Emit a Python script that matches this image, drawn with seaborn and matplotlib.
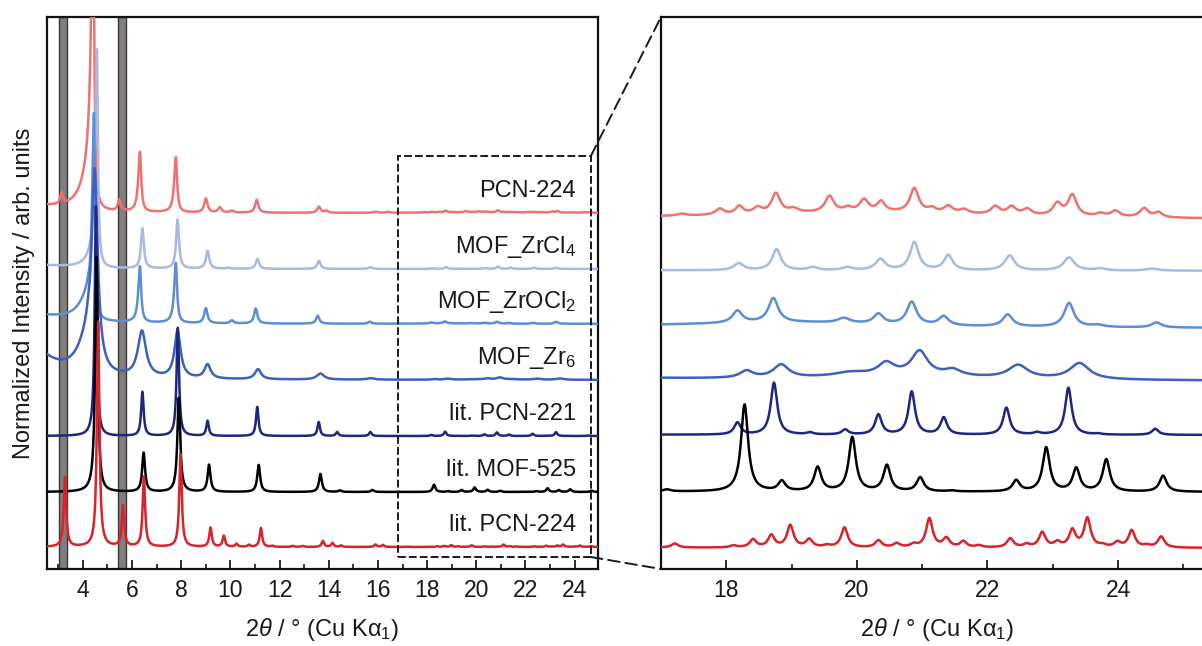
import numpy as np
import pandas as pd
import matplotlib
matplotlib.use("Agg")
import matplotlib.pyplot as plt
import seaborn as sns
from matplotlib.patches import Rectangle, ConnectionPatch
from matplotlib.ticker import MultipleLocator

# ---------------- data ----------------
samples = ["PCN-224", "MOF_ZrCl4", "MOF_ZrOCl2", "MOF_Zr6",
           "lit. PCN-221", "lit. MOF-525", "lit. PCN-224"]
labels = ["PCN-224", "MOF_ZrCl$_4$", "MOF_ZrOCl$_2$", "MOF_Zr$_6$",
          "lit. PCN-221", "lit. MOF-525", "lit. PCN-224"]
colors = ["#ef7272", "#a9b9e2", "#5b8ed6", "#3b62bf",
          "#1f2682", "#000000", "#d8232a"]
offsets = [356, 300, 245, 189, 133, 77, 22]          # stacking offsets, left panel
zoom_offsets = [349, 298, 240, 187, 134, 77, 21]     # stacking offsets, zoom panel
ZOOM = 12                                           # magnification of zoom panel

# peaks: (2theta, height, half-width left, [half-width right]) – left panel units
pcn224_peaks = [(2.0, 7, 1.5), (3.13, 11, 0.06), (4.42, 290, 0.10, 0.05), (4.30, 35, 0.40, 0.10),
                (5.48, 11, 0.07), (6.32, 60, 0.08, 0.06), (7.78, 55, 0.08, 0.06), (9.00, 14, 0.08),
                (9.57, 5, 0.08), (10.06, 2, 0.08), (11.07, 13, 0.08), (13.60, 6, 0.08),
                (13.90, 2, 0.08), (15.90, 1, 0.08), (16.40, 1, 0.08)]
zrcl4_peaks = [(2.0, 4, 1.5), (4.57, 215, 0.08, 0.05), (4.45, 12, 0.30, 0.08), (6.42, 40, 0.07),
               (7.85, 49, 0.07), (9.07, 18, 0.08), (9.90, 1, 0.08), (11.10, 10, 0.08),
               (13.60, 8, 0.08), (15.70, 2, 0.08)]
zrocl2_peaks = [(1.5, 10, 2.0), (4.45, 205, 0.09, 0.05), (4.20, 20, 0.45, 0.10), (6.32, 56, 0.08, 0.06),
                (7.78, 60, 0.08, 0.06), (9.00, 15, 0.08), (10.06, 3, 0.08), (11.03, 15, 0.08),
                (13.55, 8, 0.08), (15.67, 2, 0.08)]
zr6_peaks = [(1.6, 42, 1.0), (4.48, 200, 0.15, 0.15), (4.20, 30, 0.50, 0.15), (6.40, 46, 0.20),
             (7.85, 47, 0.15), (9.07, 14, 0.15), (11.12, 10, 0.15), (13.66, 6, 0.18),
             (15.70, 1.5, 0.18)]
pcn221_peaks = [(4.53, 230, 0.06, 0.05), (6.42, 44, 0.06), (7.86, 108, 0.06), (9.07, 15, 0.06),
                (11.09, 29, 0.06), (13.59, 14, 0.06), (14.34, 4, 0.06), (15.69, 4, 0.06)]
mof525_peaks = [(4.56, 235, 0.07, 0.06), (6.47, 39, 0.07), (7.90, 94, 0.07), (9.13, 27, 0.07),
                (11.15, 27, 0.07), (13.66, 18, 0.07), (14.45, 1.5, 0.07), (15.78, 2, 0.07)]
litpcn224_peaks = [(3.27, 70, 0.06), (4.62, 225, 0.06), (5.63, 41, 0.06), (6.48, 70, 0.06),
                   (7.97, 93, 0.06), (9.19, 19, 0.06), (9.73, 11, 0.06), (10.25, 3, 0.06),
                   (10.75, 2, 0.06), (11.24, 19, 0.06), (11.71, 1, 0.06), (12.54, 1, 0.06),
                   (12.94, 1, 0.06), (13.76, 6, 0.06), (14.15, 4, 0.06), (14.50, 1.5, 0.06),
                   (15.90, 2.5, 0.06), (16.20, 2, 0.06)]

# high-angle peaks: (2theta, height, half-width) – zoom panel units
pcn224_zoom = [(20.2, 7, 2.5), (17.32, 2, 0.08), (17.90, 6, 0.08), (18.20, 8, 0.07), (18.48, 6, 0.08),
               (18.76, 20, 0.08), (19.03, 4, 0.09), (19.58, 16, 0.08), (19.86, 4, 0.07),
               (20.11, 12, 0.08), (20.37, 10, 0.07), (20.88, 24, 0.08), (21.15, 4, 0.07),
               (21.40, 7, 0.08), (21.64, 4, 0.08), (22.12, 8, 0.08), (22.37, 8, 0.08),
               (22.61, 6, 0.08), (23.07, 12, 0.08), (23.30, 21, 0.08), (23.73, 3, 0.08),
               (23.96, 6, 0.08), (24.40, 9, 0.08), (24.62, 5, 0.07)]
zrcl4_zoom = [(18.19, 7, 0.09), (18.77, 21, 0.08), (19.33, 3, 0.09), (19.85, 3, 0.09),
              (20.36, 11, 0.09), (20.88, 28, 0.08), (21.40, 15, 0.08), (22.34, 15, 0.09),
              (23.25, 13, 0.10), (23.73, 2, 0.09), (24.52, 2, 0.11)]
zrocl2_zoom = [(19.0, 5, 1.8), (18.17, 12, 0.09), (18.72, 24, 0.09), (19.80, 5, 0.11),
               (20.33, 10, 0.09), (20.84, 23, 0.09), (21.33, 9, 0.09), (22.31, 12, 0.09),
               (23.25, 24, 0.09), (23.69, 2, 0.11), (24.59, 5, 0.09)]
zr6_zoom = [(20.8, 4, 1.5), (18.31, 7, 0.12), (18.84, 13, 0.14), (19.90, 4, 0.30),
            (20.45, 12, 0.15), (20.96, 24, 0.15), (21.47, 6, 0.15), (22.47, 13, 0.18),
            (23.41, 16, 0.18)]
pcn221_zoom = [(18.17, 12, 0.06), (18.73, 52, 0.06), (19.28, 2, 0.06), (19.82, 5, 0.06),
               (20.33, 20, 0.06), (20.84, 43, 0.06), (21.33, 17, 0.06), (22.29, 27, 0.06),
               (22.76, 2, 0.06), (23.24, 47, 0.06), (23.69, 1, 0.06), (24.57, 6, 0.06)]
mof525_zoom = [(17.09, 2, 0.07), (18.28, 87, 0.065), (18.85, 10, 0.065), (19.40, 24, 0.065),
               (19.93, 54, 0.065), (20.46, 26, 0.065), (20.97, 14, 0.065), (21.45, 1, 0.07),
               (22.44, 11, 0.065), (22.90, 44, 0.065), (23.36, 23, 0.065), (23.82, 32, 0.065),
               (24.69, 16, 0.065)]
litpcn224_zoom = [(17.21, 4, 0.06), (18.11, 2, 0.06), (18.41, 8, 0.06), (18.69, 12, 0.06),
                  (18.98, 22, 0.06), (19.27, 8, 0.06), (19.54, 2, 0.06), (19.81, 20, 0.06),
                  (20.33, 7, 0.06), (20.61, 4, 0.06), (20.87, 3, 0.06), (21.11, 29, 0.06),
                  (21.37, 9, 0.06), (21.63, 6, 0.06), (21.87, 2, 0.06), (22.35, 9, 0.06),
                  (22.60, 3, 0.06), (22.84, 15, 0.06), (23.07, 5, 0.06), (23.30, 17, 0.06),
                  (23.53, 29, 0.06), (23.76, 2, 0.06), (23.99, 5, 0.06), (24.21, 17, 0.06),
                  (24.44, 2, 0.06), (24.66, 11, 0.06)]

peak_lists = [pcn224_peaks, zrcl4_peaks, zrocl2_peaks, zr6_peaks,
              pcn221_peaks, mof525_peaks, litpcn224_peaks]
zoom_lists = [pcn224_zoom, zrcl4_zoom, zrocl2_zoom, zr6_zoom,
              pcn221_zoom, mof525_zoom, litpcn224_zoom]

left_ticks = [4, 6, 8, 10, 12, 14, 16, 18, 20, 22, 24]
right_ticks = [18, 20, 22, 24]
shaded_bands = [(3.04, 3.37), (5.41, 5.75)]


def profile(x, peaks, scale=1.0):
    y = np.zeros_like(x)
    for p in peaks:
        pos, h, wl = p[0], p[1], p[2]
        wr = p[3] if len(p) > 3 else wl
        w = np.where(x < pos, wl, wr)
        y += scale * h * w ** 2 / ((x - pos) ** 2 + w ** 2)
    return y


grid = np.arange(2.5, 25.6, 0.004)
rows_l, rows_r = [], []
for s, off, zoff, pk, zk in zip(samples, offsets, zoom_offsets, peak_lists, zoom_lists):
    inten = profile(grid, pk) + profile(grid, zk, 1.0 / ZOOM)
    rows_l.append(pd.DataFrame({"tt": grid, "I": off + inten, "sample": s}))
    m = grid >= 16.9
    rows_r.append(pd.DataFrame({"tt": grid[m], "I": zoff + ZOOM * inten[m], "sample": s}))
df_l = pd.concat(rows_l, ignore_index=True)
df_r = pd.concat(rows_r, ignore_index=True)

# ---------------- styling ----------------
sns.set_theme(style="ticks")
plt.rcParams["font.family"] = ["Liberation Sans", "DejaVu Sans"]
plt.rcParams["mathtext.fontset"] = "custom"
plt.rcParams["mathtext.rm"] = "Liberation Sans"
plt.rcParams["mathtext.it"] = "Liberation Sans:italic"
plt.rcParams["mathtext.bf"] = "Liberation Sans:bold"

W, H = 1202, 646
fig = plt.figure(figsize=(W / 100, H / 100), dpi=100, facecolor="white")
ax1 = fig.add_axes([47 / W, (H - 569) / H, (598 - 47) / W, 552 / H])
ax2 = fig.add_axes([661 / W, (H - 569) / H, (1214 - 661) / W, 552 / H])

pal = dict(zip(samples, colors))
sns.lineplot(data=df_l, x="tt", y="I", hue="sample", hue_order=samples, palette=pal,
             estimator=None, sort=False, legend=False, linewidth=1.8, ax=ax1, zorder=3)
sns.lineplot(data=df_r, x="tt", y="I", hue="sample", hue_order=samples, palette=pal,
             estimator=None, sort=False, legend=False, linewidth=1.8, ax=ax2, zorder=3)

for a, b in shaded_bands:
    ax1.axvspan(a, b, facecolor="#837d7d", edgecolor="#3a3a3a", linewidth=1.0, zorder=1)

for lab, off in zip(labels, offsets):
    ax1.text(24.05, off + 16, lab, ha="right", va="baseline", fontsize=17, color="#1a1a1a", zorder=5)

for ax, lim, ticks in [(ax1, (2.54, 24.95), left_ticks), (ax2, (17.0, 25.47), right_ticks)]:
    ax.set_xlim(*lim)
    ax.set_ylim(0, 552)
    ax.set_xticks(ticks)
    ax.xaxis.set_minor_locator(MultipleLocator(1))
    ax.set_yticks([])
    ax.tick_params(axis="x", which="major", direction="in", length=6.5, width=1.3,
                   labelsize=16.5, pad=7, colors="#1a1a1a")
    ax.tick_params(axis="x", which="minor", direction="in", length=3.5, width=1.3)
    for sp in ax.spines.values():
        sp.set_linewidth(1.6)
        sp.set_color("#111111")
        sp.set_visible(True)
    ax.set_xlabel("2$\\mathit{\\theta}$ / ° (Cu Kα$_1$)", fontsize=17, labelpad=10, color="#1a1a1a")
    ax.set_ylabel("")
    ax.set_facecolor("white")
ax2.spines["right"].set_visible(False)

ax1.set_ylabel("Normalized Intensity / arb. units", fontsize=17, color="#1a1a1a")
ax1.yaxis.set_label_coords(-0.022, 0.5)

# dashed zoom box and connectors
ax1.add_patch(Rectangle((16.81, 12), 24.66 - 16.81, 413 - 12, fill=False, edgecolor="#1a1a1a",
                        linewidth=1.4, linestyle=(0, (4, 1.6)), zorder=4))
for ya, yb in [(413, 1), (12, 0)]:
    con = ConnectionPatch(xyA=(24.66, ya), coordsA=ax1.transData, xyB=(0, yb),
                          coordsB=ax2.transAxes, linestyle=(0, (6, 3)), linewidth=1.4,
                          color="#1a1a1a", zorder=4)
    fig.add_artist(con)

fig.savefig("out.png", dpi=100, facecolor="white")
